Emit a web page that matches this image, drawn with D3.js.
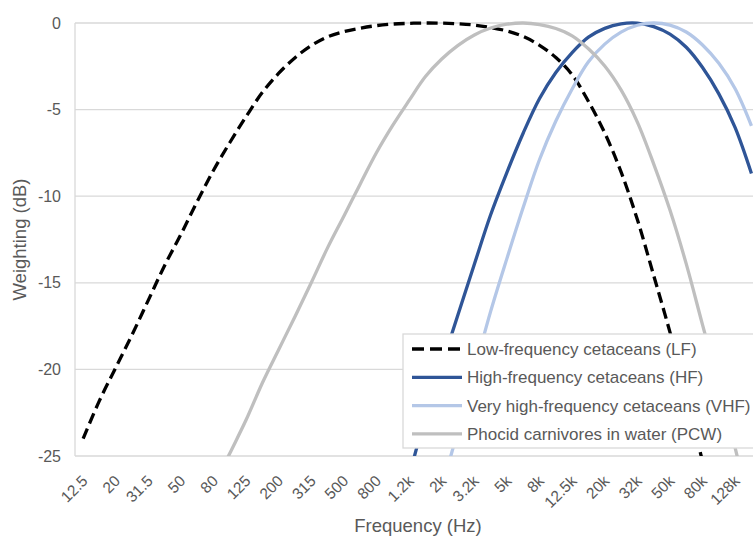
<!DOCTYPE html>
<html>
<head>
<meta charset="utf-8">
<script src="https://cdn.jsdelivr.net/npm/d3@7/dist/d3.min.js"></script>
<style>
  body { margin: 0; background: #fff; }
  svg text { font-family: "Liberation Sans", Arial, sans-serif; fill: #595959; }
</style>
</head>
<body>
<div id="chart"></div>
<script>
// 1/3-octave band labels (only every second one is printed on the axis)
var freqLabels = ["12.5","16","20","25","31.5","40","50","63","80","100","125","160","200","250","315","400",
  "500","630","800","1k","1.2k","1.6k","2k","2.5k","3.2k","4k","5k","6.3k","8k","10k","12.5k","16k",
  "20k","25k","32k","40k","50k","64k","80k","100k","128k","160k"];

// weighting values in dB, one per band
var lfValues  = [-24.0,-21.8,-19.9,-18.0,-16.0,-14.0,-12.2,-10.3,-8.5,-6.9,-5.4,-4.0,-2.9,-2.0,-1.3,-0.8,
  -0.5,-0.3,-0.15,-0.06,-0.02,0,-0.01,-0.05,-0.12,-0.26,-0.46,-0.78,-1.29,-1.99,-2.99,-4.53,
  -6.35,-8.6,-11.35,-14.57,-17.85,-21.45,-25.32,-29.03,-32.79,-37.01];
var hfValues  = [-89.9,-86.5,-83.4,-80.3,-77.1,-73.8,-70.7,-67.4,-64.1,-61.0,-57.9,-54.5,-51.4,-48.3,-45.1,-41.8,
  -38.7,-35.5,-32.2,-29.1,-26.1,-22.7,-19.74,-16.83,-13.93,-11.07,-8.62,-6.35,-4.36,-2.86,-1.71,-0.82,
  -0.31,-0.05,-0.01,-0.21,-0.64,-1.40,-2.57,-4.09,-6.04,-8.69];
var vhfValues = [-106.0,-102.1,-98.7,-95.2,-91.6,-87.8,-84.3,-80.7,-77.0,-73.5,-70.0,-66.1,-62.7,-59.2,-55.6,-51.8,
  -48.3,-44.7,-41.0,-37.55,-34.09,-30.28,-26.87,-23.5,-20.07,-16.65,-13.59,-10.64,-7.88,-5.66,-3.81,-2.24,
  -1.22,-0.53,-0.13,0,-0.12,-0.52,-1.27,-2.33,-3.8,-5.94];
var pcwValues = [-42.89,-40.74,-38.81,-36.87,-34.86,-32.79,-30.85,-28.84,-26.77,-24.84,-22.91,-20.77,-18.85,-16.94,-14.98,-12.97,
  -11.14,-9.29,-7.48,-5.9,-4.47,-3.09,-2.08,-1.29,-0.69,-0.29,-0.07,0,-0.09,-0.32,-0.74,-1.49,
  -2.48,-3.86,-5.72,-8.13,-10.8,-13.91,-17.43,-20.91,-24.53,-28.63];

var yTicks = [0,-5,-10,-15,-20,-25];

var series = [
  {name:'Low-frequency cetaceans (LF)',            values:lfValues,  color:'#000000', dash:'11,5.5'},
  {name:'High-frequency cetaceans (HF)',           values:hfValues,  color:'#2f5597', dash:null},
  {name:'Very high-frequency cetaceans (VHF)',     values:vhfValues, color:'#b4c7e7', dash:null},
  {name:'Phocid carnivores in water (PCW)',        values:pcwValues, color:'#bfbfbf', dash:null}
];

var W = 753, H = 536;
var plotL = 75, plotT = 23, plotB = 456, bandW = 16.3;
var plotR = plotL + bandW*freqLabels.length;

var svg = d3.select('#chart').append('svg').attr('width',W).attr('height',H);

var x = d3.scalePoint().domain(freqLabels).range([plotL,plotR]).padding(0.5);
var y = d3.scaleLinear().domain([-25,0]).range([plotB,plotT]);

// gridlines
svg.append('g').selectAll('line').data(yTicks).join('line')
  .attr('x1',plotL).attr('x2',plotR)
  .attr('y1',function(d){ return y(d); }).attr('y2',function(d){ return y(d); })
  .attr('stroke','#d9d9d9').attr('stroke-width',1.3);
svg.append('line').attr('x1',plotL).attr('x2',plotL).attr('y1',plotT).attr('y2',plotB)
  .attr('stroke','#d9d9d9').attr('stroke-width',1.3);

// y axis labels (plain hyphen, not the unicode minus)
var yAxis = svg.append('g').attr('transform','translate('+plotL+',0)')
  .call(d3.axisLeft(y).tickValues(yTicks).tickSize(0).tickPadding(14).tickFormat(function(d){ return String(d); }));
yAxis.select('.domain').remove();
yAxis.selectAll('text').attr('font-size','16px').attr('fill','#595959');

// x axis labels, every other band
var xAxis = svg.append('g').attr('transform','translate(0,'+plotB+')')
  .call(d3.axisBottom(x).tickValues(freqLabels.filter(function(d,i){ return i%2===0; })).tickSize(0));
xAxis.select('.domain').remove();
xAxis.selectAll('text').attr('font-size','15.5px').attr('fill','#595959')
  .attr('text-anchor','end').attr('dy','0.35em')
  .attr('transform','translate(-1,20) rotate(-45)');

// axis titles
svg.append('text').attr('x',418).attr('y',532).attr('text-anchor','middle')
  .attr('font-size','18.5px').text('Frequency (Hz)');
svg.append('text').attr('transform','translate(26,239.5) rotate(-90)').attr('text-anchor','middle')
  .attr('font-size','18.5px').text('Weighting (dB)');

// lines, clipped to plot area
svg.append('clipPath').attr('id','plotclip').append('rect')
  .attr('x',plotL).attr('y',plotT-4).attr('width',plotR-plotL).attr('height',plotB-plotT+4);

var line = d3.line()
  .x(function(d,i){ return x(freqLabels[i]); })
  .y(function(d){ return y(d); })
  .curve(d3.curveCatmullRom.alpha(0.5));

var plot = svg.append('g').attr('clip-path','url(#plotclip)');
series.forEach(function(s){
  plot.append('path').datum(s.values).attr('d',line)
    .attr('fill','none').attr('stroke',s.color).attr('stroke-width',3.3)
    .attr('stroke-dasharray',s.dash).attr('stroke-linejoin','round');
});

// legend
var lg = svg.append('g').attr('transform','translate(403,334)');
lg.append('rect').attr('x',0).attr('y',0).attr('width',360).attr('height',114)
  .attr('fill','#fff').attr('stroke','#d9d9d9').attr('stroke-width',1.3);
series.forEach(function(s,i){
  var cy = 15 + i*28.3;
  lg.append('line').attr('x1',9).attr('x2',59).attr('y1',cy).attr('y2',cy)
    .attr('stroke',s.color).attr('stroke-width',3.3).attr('stroke-dasharray',s.dash ? '12,6' : null);
  lg.append('text').attr('x',64).attr('y',cy).attr('dy','0.35em')
    .attr('font-size','17px').text(s.name);
});
</script>
</body>
</html>
